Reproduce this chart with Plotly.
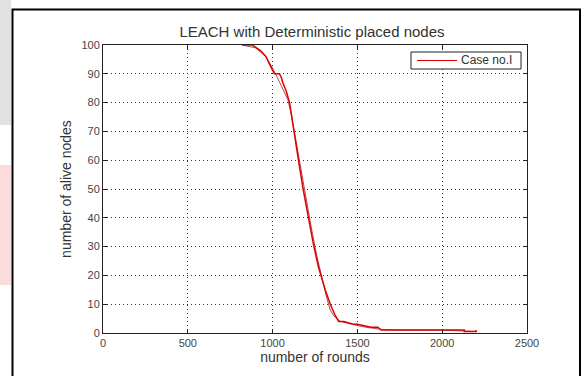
import plotly.graph_objects as go

# Alive-node counts per round for LEACH with deterministically placed nodes
rounds_a = [820, 880, 930, 960, 985, 1000, 1010, 1040, 1050, 1060, 1080, 1100, 1120, 1150,
            1180, 1210, 1240, 1270, 1290, 1310, 1340, 1370, 1390, 1420, 1450, 1480, 1500,
            1540, 1580, 1620, 1640, 1700, 1800, 1900, 2000, 2100, 2130, 2130, 2200, 2200]
alive_a = [100, 100, 98, 96, 93, 91, 90, 90, 89, 87, 84, 80, 72, 61,
           50, 40, 31, 23, 19, 15, 10, 6, 4, 4, 3.5, 3, 3,
           2.5, 2, 2, 1, 1, 1, 1, 1, 1, 1, 0.5, 0.5, 1]

rounds_b = [820, 900, 960, 1000, 1050, 1090, 1110, 1140, 1170, 1200, 1230, 1260, 1290,
            1320, 1340, 1360, 1400, 1450, 1500, 1550, 1650, 1800, 2000, 2200]
alive_b = [100, 99, 96, 92, 86, 81, 76, 66, 55, 45, 36, 27, 19,
           12, 8, 6, 4, 3.2, 2.6, 2, 1.2, 1, 1, 0.5]

x_ticks = [0, 500, 1000, 1500, 2000, 2500]
y_ticks = [0, 10, 20, 30, 40, 50, 60, 70, 80, 90, 100]

FONT = "Liberation Sans, Arial, sans-serif"

# plot area in pixels
L, R, T, B = 103, 527, 45, 333
W, H = 582, 376


def px_x(p):
    return (p - L) / (R - L)


def px_y(p):
    return (B - p) / (B - T)


fig = go.Figure()
fig.add_trace(go.Scatter(x=rounds_b, y=alive_b, mode="lines", showlegend=False,
                         line=dict(color="#b84a4a", width=1)))
fig.add_trace(go.Scatter(x=rounds_a, y=alive_a, mode="lines", name="Case no.I", showlegend=False,
                         line=dict(color="#dd0000", width=1.5)))

axis_font = dict(family=FONT, size=11, color="#444444")
common = dict(showline=True, linecolor="#222222", linewidth=1, mirror="allticks",
              ticks="inside", ticklen=4, tickcolor="#222222",
              showgrid=True, gridcolor="#333333", gridwidth=1, griddash="1px,3px",
              zeroline=False, tickfont=axis_font)

fig.update_xaxes(range=[0, 2500], tickvals=x_ticks,
                 title=dict(text="number of rounds", standoff=3,
                            font=dict(family=FONT, size=14, color="#333333")),
                 **common)
fig.update_yaxes(range=[0, 100], tickvals=y_ticks,
                 title=dict(text="number of alive nodes", standoff=6,
                            font=dict(family=FONT, size=14, color="#333333")),
                 **common)

shapes = [
    # faint background marks outside the figure frame
    dict(type="rect", xref="paper", yref="paper", x0=px_x(0), x1=px_x(11),
         y0=px_y(0), y1=px_y(125), fillcolor="#e2e2e2", line_width=0, layer="below"),
    dict(type="rect", xref="paper", yref="paper", x0=px_x(0), x1=px_x(11),
         y0=px_y(165), y1=px_y(285), fillcolor="#fadcdc", line_width=0, layer="below"),
    # figure frame
    dict(type="rect", xref="paper", yref="paper", x0=px_x(12.5), x1=px_x(580),
         y0=px_y(380), y1=px_y(9.5), line=dict(color="black", width=2),
         fillcolor="rgba(0,0,0,0)"),
    # legend box and sample line
    dict(type="rect", xref="paper", yref="paper", x0=px_x(411), x1=px_x(521),
         y0=px_y(69), y1=px_y(52), line=dict(color="#222222", width=1), fillcolor="white"),
    dict(type="line", xref="paper", yref="paper", x0=px_x(417), x1=px_x(457),
         y0=px_y(60.5), y1=px_y(60.5), line=dict(color="#dd0000", width=1)),
]

annotations = [
    dict(text="Case no.I", xref="paper", yref="paper", x=px_x(459), y=px_y(60.5),
         xanchor="left", yanchor="middle", showarrow=False,
         font=dict(family=FONT, size=12, color="#333333")),
]

fig.update_layout(
    width=W, height=H,
    margin=dict(l=L, r=W - R, t=T, b=H - B),
    paper_bgcolor="white", plot_bgcolor="white",
    showlegend=False,
    title=dict(text="LEACH with Deterministic placed nodes", x=312 / W, xanchor="center",
               y=1 - 32 / H, yanchor="middle",
               font=dict(family=FONT, size=15, color="#333333")),
    shapes=shapes,
    annotations=annotations,
)

fig.write_html("out.html")
